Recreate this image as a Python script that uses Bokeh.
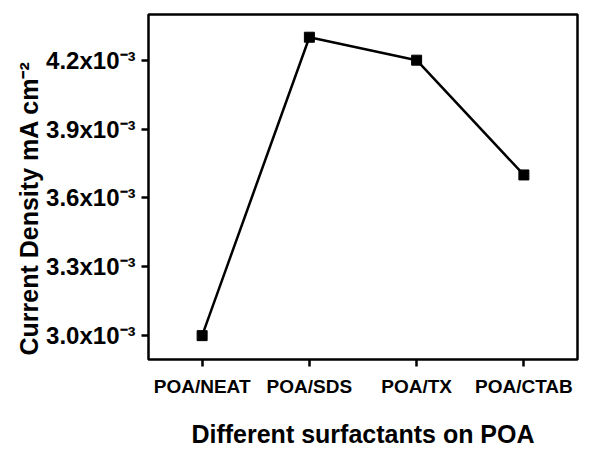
from bokeh.plotting import figure
from bokeh.models import FactorRange, Range1d, FixedTicker, ColumnDataSource, Title
from bokeh.embed import file_html
from bokeh.resources import INLINE

categories = ["POA/NEAT", "POA/SDS", "POA/TX", "POA/CTAB"]
current_density = [3.0e-3, 4.30e-3, 4.20e-3, 3.70e-3]
y_tick_values = [3.0e-3, 3.3e-3, 3.6e-3, 3.9e-3, 4.2e-3]
y_tick_labels = ["3.0x10\u207b\u00b3", "3.3x10\u207b\u00b3", "3.6x10\u207b\u00b3",
                 "3.9x10\u207b\u00b3", "4.2x10\u207b\u00b3"]
x_title = "Different surfactants on POA"
y_title = "Current Density mA cm\u207b\u00b2"

FONT = "Liberation Sans"

src = ColumnDataSource(dict(x=categories, y=current_density))

p = figure(width=592, height=450, output_backend="svg", toolbar_location=None,
           x_range=FactorRange(*categories, range_padding=0),
           y_range=Range1d(2.896e-3, 4.399e-3),
           min_border_left=148, min_border_right=15, min_border_top=14, min_border_bottom=0)

p.line("x", "y", source=src, line_color="black", line_width=2.5)
p.scatter("x", "y", source=src, marker="square", size=10, fill_color="black", line_color="black")

p.xgrid.visible = False
p.ygrid.visible = False
p.outline_line_color = "black"
p.outline_line_width = 2.5
p.outline_line_alpha = 1.0
p.background_fill_color = "white"
p.border_fill_color = "white"

p.yaxis.ticker = FixedTicker(ticks=y_tick_values)
p.yaxis.major_label_overrides = {v: l for v, l in zip(y_tick_values, y_tick_labels)}

for ax in (p.xaxis[0], p.yaxis[0]):
    ax.axis_line_color = None
    ax.major_tick_in = 0
    ax.major_tick_out = 7
    ax.major_tick_line_width = 2.5
    ax.major_tick_line_color = "black"
    ax.minor_tick_line_color = None
    ax.major_label_text_font = FONT
    ax.major_label_text_font_style = "bold"
    ax.major_label_text_color = "black"
    ax.axis_label_text_font = FONT
    ax.axis_label_text_font_style = "bold"
    ax.axis_label_text_color = "black"

p.xaxis.axis_label = x_title
p.xaxis.axis_label_text_font_size = "25px"
p.xaxis.major_label_text_font_size = "19px"
p.xaxis.major_label_standoff = 9
p.xaxis.axis_label_standoff = 20

p.yaxis.major_label_text_font_size = "24px"
p.yaxis.major_label_standoff = 6

yt = Title(text=y_title, align="left", offset=4, text_font=FONT, text_font_style="bold",
           text_font_size="25px", text_color="black", standoff=2)
p.add_layout(yt, "left")

open("out.html", "w").write(file_html(p, INLINE))
